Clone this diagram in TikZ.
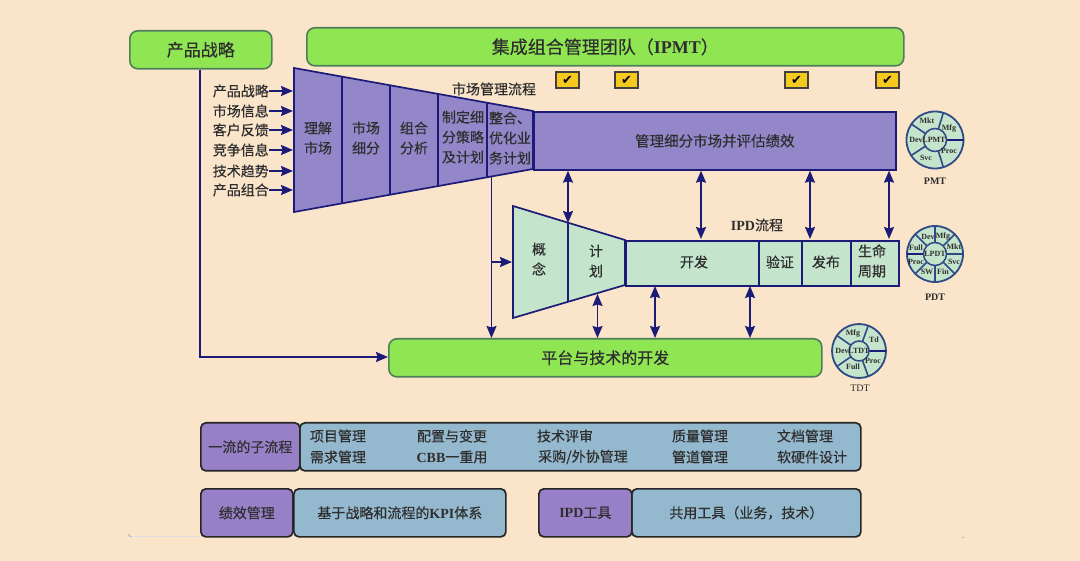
\documentclass[tikz,border=0pt]{standalone}
\usepackage{fontspec}
\setmainfont[FakeBold=0.3]{Noto Sans CJK SC}
\newfontfamily\lat{Liberation Serif}
\newfontfamily\sym{DejaVu Sans}
\usetikzlibrary{arrows.meta,calc}
\definecolor{bgc}{HTML}{FAE5CB}
\definecolor{greenf}{HTML}{90E552}
\definecolor{greend}{HTML}{4F7F5A}
\definecolor{purp}{HTML}{9387CA}
\definecolor{purpb}{HTML}{9880C8}
\definecolor{navy}{HTML}{1C1C78}
\definecolor{mint}{HTML}{C5E4CC}
\definecolor{blu}{HTML}{94B8CE}
\definecolor{ink}{HTML}{2E2E2E}
\definecolor{ringl}{HTML}{2F4A84}
\definecolor{gold}{HTML}{F6C91E}
\tikzset{
  x=1pt,y=-1pt,
  txt/.style={text=ink,inner sep=0,align=center,font=\fontsize{14}{20}\selectfont},
  hdr/.style={draw=greend,line width=1.6pt,fill=greenf,rounded corners=8pt,text=ink,inner sep=0,anchor=north west},
  subbox/.style={draw=black!85,line width=1.7pt,rounded corners=5pt,inner sep=0,text=ink,anchor=north west,font=\fontsize{14}{20}\selectfont},
  pbox/.style={subbox,fill=purpb},
  bbox/.style={subbox,fill=blu},
  proc/.style={draw=navy,line width=1.7pt},
  conn/.style={draw=navy,line width=1.7pt},
  one/.style={conn,-{Stealth[length=12pt,width=10pt,inset=1.5pt]}},
  both/.style={conn,{Stealth[length=12pt,width=10pt,inset=1.5pt]}-{Stealth[length=12pt,width=10pt,inset=1.5pt]}},
  chk/.style={draw=black!75,line width=1.3pt,fill=gold,minimum width=23pt,minimum height=16pt,inner sep=0,font=\sym\fontsize{13}{13}\selectfont,text=black},
  ring/.style={draw=ringl,line width=1.8pt,fill=mint},
  rl/.style={inner sep=0,text=ink,font=\lat\bfseries\fontsize{8}{8}\selectfont},
  wcap/.style={inner sep=0,text=ink,font=\lat\bfseries\fontsize{10}{10}\selectfont},
}
\begin{document}
\begin{tikzpicture}
\useasboundingbox[fill=bgc] (0,0) rectangle (1080,561);

% faint page marks
\draw[black!12,line width=.7pt] (128,536) -- (200,536);
\draw[black!30,line width=.8pt] (128,534) -- (131,537);
\draw[black!30,line width=.8pt] (962,537) -- (964,537);

% header boxes
\node[hdr,minimum width=142pt,minimum height=38pt,font=\fontsize{17}{20}\selectfont] (strategy) at (129,30) {\raisebox{1.5pt}{产品战略}};
\node[hdr,minimum width=597pt,minimum height=38pt,font=\fontsize{18}{20}\selectfont] (ipmt) at (306,27) {\raisebox{1pt}{集成组合管理团队（{\lat\bfseries IPMT}）}};
\node[hdr,minimum width=433pt,minimum height=38pt,font=\fontsize{16}{20}\selectfont] (platform) at (388,338) {平台与技术的开发};

% market funnel
\draw[proc,fill=purp,line join=miter] (294,68) -- (533,111) -- (533,169) -- (294,212) -- cycle;
\foreach \xx/\ya/\yb in {342/76.6/203.4,390/85.3/194.7,438/93.9/186.1,487/102.7/177.3}
  \draw[proc] (\xx,\ya) -- (\xx,\yb);
\node[proc,fill=purp,anchor=north west,minimum width=362pt,minimum height=58pt,inner sep=0,text=ink,font=\fontsize{14.5}{20}\selectfont] (mgmt) at (533,111) {管理细分市场并评估绩效};
\node[txt] (m1) at (318,138) {理解\\市场};
\node[txt] (m2) at (366,138) {市场\\细分};
\node[txt] (m3) at (414,138) {组合\\分析};
\node[txt] (m4) at (463,137) {制定细\\分策略\\及计划};
\node[txt] (m5) at (510,138) {整合、\\优化业\\务计划};
\node[txt] (mtitle) at (494,89) {市场管理流程};

% checks
\node[chk] (c1) at (567.5,80) {✔};
\node[chk] (c2) at (626.5,80) {✔};
\node[chk] (c3) at (796.5,80) {✔};
\node[chk] (c4) at (887.5,80) {✔};

% IPD funnel
\draw[proc,fill=mint,line join=miter] (513,206) -- (625,240) -- (625,285) -- (513,318) -- cycle;
\draw[proc] (568,222.7) -- (568,301.8);
\node[proc,fill=mint,anchor=north west,minimum width=273pt,minimum height=45pt,inner sep=0] (ipdbar) at (625,240) {};
\foreach \xx in {759,802,851} \draw[proc] (\xx,240) -- (\xx,285);
\node[txt] (d1) at (539,259) {概\\念};
\node[txt] (d2) at (596,261) {计\\划};
\node[txt] (d3) at (694,262) {开发};
\node[txt] (d4) at (780,262) {验证};
\node[txt] (d5) at (826,262) {发布};
\node[txt] (d6) at (872,261) {生命\\周期};
\node[txt] (dtitle) at (757,225) {{\lat\bfseries IPD}流程};

% input labels and arrows
\foreach \nm/\yy/\tx in {a/91/产品战略,b/111/市场信息,c/130/客户反馈,d/150/竞争信息,e/171/技术趋势,f/190/产品组合}{
  \node[txt,anchor=east] (i\nm) at (269,\yy) {\tx};
  \coordinate (t\nm) at (293,\yy);
  \draw[one] (i\nm.east) -- (t\nm);
}

% strategy line
\coordinate (sx) at (200,68);
\coordinate (sc) at (200,357);
\draw[one,line width=2pt] (strategy.south -| sx) -- (sc) -- (platform.west |- sc);

% market -> IPD & platform line
\coordinate (foot) at (491.5,177);
\coordinate (branch) at (491.5,262);
\coordinate (ftip) at (512,262);
\draw[one] (foot) -- (platform.north -| foot);
\draw[one] (branch) -- (ftip);

% vertical connectors
\coordinate (x1) at (568,223);
\coordinate (x2) at (701,239);
\coordinate (x3) at (810,239);
\coordinate (x4) at (889,239);
\draw[both] (mgmt.south -| x1) -- (x1);
\draw[both] (mgmt.south -| x2) -- (x2);
\draw[both] (mgmt.south -| x3) -- (x3);
\draw[both] (mgmt.south -| x4) -- (x4);
\coordinate (y1) at (597.5,294);
\coordinate (y2) at (655,286);
\coordinate (y3) at (750,286);
\draw[both] (y1) -- (platform.north -| y1);
\draw[both] (y2) -- (platform.north -| y2);
\draw[both] (y3) -- (platform.north -| y3);

% PMT wheel
\begin{scope}[shift={(935,140)}]
  \draw[ring] (0,0) circle[radius=28.5];
  \foreach \a in {73,147,214,287} \draw[ringl,line width=1.6pt] (\a:11.5) -- (\a:28.5);
  \draw[navy,line width=2pt] (0:11.5) -- (0:28.5);
  \draw[ring,line width=1.5pt] (0,0) circle[radius=11.5];
  \node[rl] (pmtc) at (-1,0) {LPMT};
  \node[rl] at (-8,-19) {Mkt};
  \node[rl] at (14,-11) {Mfg};
  \node[rl] at (-19,0) {Dev};
  \node[rl] at (14,11) {Proc};
  \node[rl] at (-9,18) {Svc};
\end{scope}
\node[wcap] (pmtl) at (935,181) {PMT};

% PDT wheel
\begin{scope}[shift={(935,254)}]
  \draw[ring] (0,0) circle[radius=28];
  \foreach \a in {0,45,90,135,225,270,315} \draw[ringl,line width=1.6pt] (\a:11.5) -- (\a:28);
  \draw[navy,line width=2pt] (180:11.5) -- (180:28);
  \draw[ring,line width=1.5pt] (0,0) circle[radius=11.5];
  \node[rl] (pdtc) at (0,0) {LPDT};
  \node[rl] at (-7,-17) {Dev};
  \node[rl] at (8,-17) {Mfg};
  \node[rl] at (19,-7) {Mkt};
  \node[rl] at (19,7.5) {Svc};
  \node[rl] at (8,18) {Fin};
  \node[rl] at (-8,18) {SW};
  \node[rl] at (-19,7.5) {Proc};
  \node[rl] at (-19,-6.5) {Full};
\end{scope}
\node[wcap] (pdtl) at (935,297) {PDT};

% TDT wheel
\begin{scope}[shift={(859,351)}]
  \draw[ring] (0,0) circle[radius=27];
  \foreach \a in {70,145,215,290} \draw[ringl,line width=1.6pt] (\a:10) -- (\a:27);
  \draw[navy,line width=2pt] (0:10) -- (0:27);
  \draw[ring,line width=1.5pt] (0,0) circle[radius=10];
  \node[rl] (tdtc) at (0,0) {LTDT};
  \node[rl] at (-6,-17) {Mfg};
  \node[rl] at (15,-11) {Td};
  \node[rl] at (-17,0) {Dev};
  \node[rl] at (14,10) {Proc};
  \node[rl] at (-6,16) {Full};
\end{scope}
\node[wcap,font=\lat\fontsize{10}{10}\selectfont] (tdtl) at (860,388) {TDT};

% bottom bars
\node[bbox,minimum width=561pt,minimum height=48pt] (subs) at (299,422) {};
\node[pbox,minimum width=99pt,minimum height=48pt] (subl) at (200,422) {一流的子流程};
\foreach \nm/\xx/\yy/\tx in {s1/338/436/项目管理,s2/338/457/需求管理,s3/452/436/配置与变更,s4/452/457/{{\lat\bfseries CBB}一重用},s5/565/436/技术评审,s6/583/457/{采购/外协管理},s7/700/436/质量管理,s8/700/457/管道管理,s9/805/436/文档管理,s10/812/457/软硬件设计}
  \node[txt] (\nm) at (\xx,\yy) {\tx};

\node[bbox,minimum width=212pt,minimum height=48pt,font=\fontsize{14}{20}\selectfont] (kpi) at (293,488) {基于战略和流程的{\lat\bfseries KPI}体系};
\node[pbox,minimum width=92pt,minimum height=48pt] (perf) at (200,488) {绩效管理};
\node[bbox,minimum width=229pt,minimum height=48pt] (tools) at (631,488) {共用工具（业务，技术）};
\node[pbox,minimum width=93pt,minimum height=48pt] (ipdt) at (538,488) {{\lat\bfseries IPD}工具};
\end{tikzpicture}
\end{document}
